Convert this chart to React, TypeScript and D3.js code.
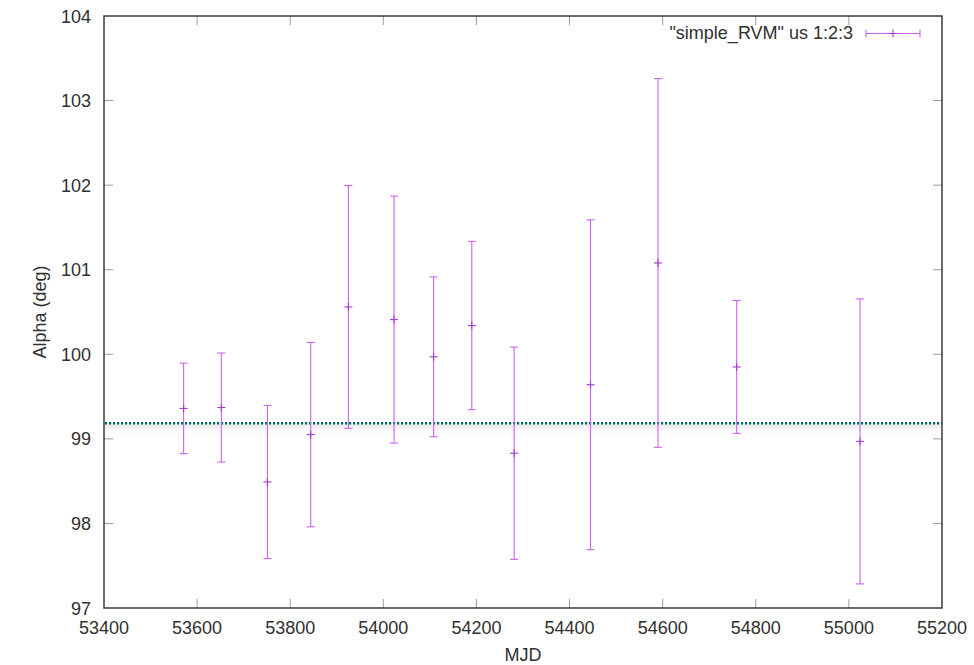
import React from "react";
import * as d3 from "d3";

const mjd = [53571, 53652, 53751, 53844, 53925, 54023, 54108, 54190, 54281, 54445, 54590, 54759, 55024];
const alpha = [99.36, 99.37, 98.49, 99.05, 100.56, 100.41, 99.97, 100.34, 98.83, 99.64, 101.08, 99.85, 98.97];
const alphaErr = [0.535, 0.645, 0.905, 1.09, 1.435, 1.46, 0.945, 0.995, 1.255, 1.95, 2.18, 0.785, 1.685];
const meanAlpha = 99.184;
const xTicks = [53400, 53600, 53800, 54000, 54200, 54400, 54600, 54800, 55000, 55200];
const yTicks = [97, 98, 99, 100, 101, 102, 103, 104];
const legendLabel = '"simple_RVM" us 1:2:3';

const W = 974, H = 665;
const L = 104, R = 942, T = 16, B = 608;
const font = "'Liberation Sans', Arial, sans-serif";
const fs = 18;
const barColor = "#cb62ee";
const markColor = "#a63ccc";
const tickColor = "#9a9a9a";
const frameColor = "#3a3a3a";
const textColor = "#303030";

export default function App() {
  const x = d3.scaleLinear().domain([53400, 55200]).range([L, R]);
  const y = d3.scaleLinear().domain([97, 104]).range([B, T]);
  const tick = 9;
  const cap = 4;
  const my = y(meanAlpha);
  return (
    <svg width={W} height={H} style={{ position: "absolute", left: 0, top: 0, background: "#fff" }}>
      <defs>
        <linearGradient id="shade" x1="0" y1="0" x2="0" y2="1">
          <stop offset="0" stopColor="#e8e8e8" stopOpacity={0.9} />
          <stop offset="1" stopColor="#ffffff" stopOpacity={0} />
        </linearGradient>
      </defs>
      <rect x={0} y={0} width={W} height={H} fill="#fff" />
      {xTicks.map((t) => (
        <g key={"xt" + t}>
          {t !== 53400 && t !== 55200 && (
            <>
              <line x1={x(t)} x2={x(t)} y1={B} y2={B - tick} stroke={tickColor} strokeWidth={1} />
              <line x1={x(t)} x2={x(t)} y1={T} y2={T + tick} stroke={tickColor} strokeWidth={1} />
            </>
          )}
          <text x={x(t)} y={634} textAnchor="middle" fontFamily={font} fontSize={fs} fill={textColor}>
            {t}
          </text>
        </g>
      ))}
      {yTicks.map((t) => (
        <g key={"yt" + t}>
          {t !== 97 && t !== 104 && (
            <>
              <line x1={L} x2={L + tick} y1={y(t)} y2={y(t)} stroke={tickColor} strokeWidth={1} />
              <line x1={R} x2={R - tick} y1={y(t)} y2={y(t)} stroke={tickColor} strokeWidth={1} />
            </>
          )}
          <text x={91} y={y(t) + 6.5} textAnchor="end" fontFamily={font} fontSize={fs} fill={textColor}>
            {t}
          </text>
        </g>
      ))}
      <rect x={L + 1} y={my + 1} width={R - L - 2} height={14} fill="url(#shade)" />
      <line x1={L + 1} x2={R} y1={my} y2={my} stroke="#006a66" strokeWidth={2.6} strokeDasharray="2.2,1.8" />
      {mjd.map((m, i) => {
        const cx = x(m);
        const y0 = y(alpha[i] - alphaErr[i]);
        const y1 = y(alpha[i] + alphaErr[i]);
        const cy = y(alpha[i]);
        return (
          <g key={"e" + i}>
            <line x1={cx} x2={cx} y1={y0} y2={y1} stroke={barColor} strokeWidth={1.1} />
            <line x1={cx - cap} x2={cx + cap} y1={y0} y2={y0} stroke={barColor} strokeWidth={1.1} />
            <line x1={cx - cap} x2={cx + cap} y1={y1} y2={y1} stroke={barColor} strokeWidth={1.1} />
            <line x1={cx - cap} x2={cx + cap} y1={cy} y2={cy} stroke={markColor} strokeWidth={1.1} />
            <line x1={cx} x2={cx} y1={cy - cap} y2={cy + cap} stroke={markColor} strokeWidth={1.1} />
          </g>
        );
      })}
      <rect x={L} y={T} width={R - L} height={B - T} fill="none" stroke={frameColor} strokeWidth={1.5} />
      <text x={853} y={39} textAnchor="end" fontFamily={font} fontSize={fs} fill={textColor}>
        {legendLabel}
      </text>
      <g>
        <line x1={866} x2={920} y1={33.5} y2={33.5} stroke={barColor} strokeWidth={1.1} />
        <line x1={866} x2={866} y1={29.5} y2={37.5} stroke={barColor} strokeWidth={1.1} />
        <line x1={920} x2={920} y1={29.5} y2={37.5} stroke={barColor} strokeWidth={1.1} />
        <line x1={893} x2={893} y1={29.5} y2={37.5} stroke={markColor} strokeWidth={1.1} />
        <line x1={889} x2={897} y1={33.5} y2={33.5} stroke={markColor} strokeWidth={1.1} />
      </g>
      <text x={523} y={661} textAnchor="middle" fontFamily={font} fontSize={fs} fill={textColor}>
        MJD
      </text>
      <text
        transform={`translate(46,${(T + B) / 2}) rotate(-90)`}
        textAnchor="middle"
        fontFamily={font}
        fontSize={fs}
        fill={textColor}
      >
        Alpha (deg)
      </text>
    </svg>
  );
}
